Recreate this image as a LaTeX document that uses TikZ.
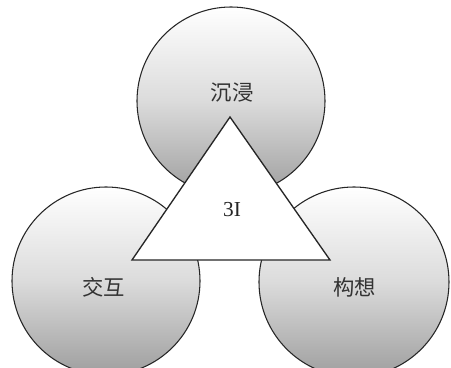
\documentclass[tikz,border=0pt]{standalone}
\usepackage{fontspec}
\setmainfont{Liberation Serif}
\newfontfamily\cjk{Noto Sans CJK SC}
\begin{document}
\begin{tikzpicture}[x=0.75pt,y=-0.75pt,
  ball/.style={draw=black!85, line width=0.8pt, top color=white, bottom color=black!38, middle color=black!14},
  tri/.style={draw=black!85, line width=1pt, fill=white},
  lab/.style={font=\cjk\fontsize{16}{18}\selectfont, text=black!80},
  mid/.style={font=\fontsize{16}{18}\selectfont, text=black!85}]
\useasboundingbox (0,0) rectangle (451,368);
\fill[white] (0,0) rectangle (451,368);
\path[ball] (231,101) circle (94);
\path[ball] (106,281) circle (94);
\path[ball] (354,282) circle (95);
\path[tri] (230,117) -- (132,260) -- (330,260) -- cycle;
\node[lab] (top) at (232,93) {沉浸};
\node[lab] (left) at (104,287) {交互};
\node[lab] (right) at (355,287) {构想};
\node[mid] (c) at (232,210) {3I};
\end{tikzpicture}
\end{document}
